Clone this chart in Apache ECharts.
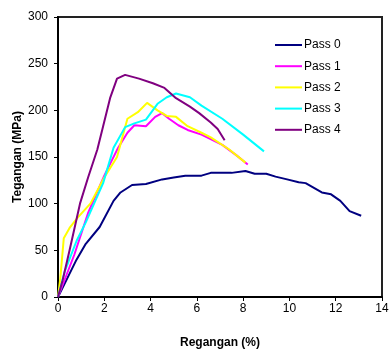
<!DOCTYPE html>
<html>
<head>
<meta charset="utf-8">
<script src="https://cdn.jsdelivr.net/npm/echarts@6/dist/echarts.min.js"></script>
<style>
  html, body { margin: 0; padding: 0; background: #fff; }
  #chart { width: 389px; height: 349px; }
</style>
</head>
<body>
<div id="chart"></div>
<script>
// strain (%) / stress (MPa) pairs
const pass0 = [[0,0],[0.4,20],[0.8,40],[1.2,57],[1.8,75],[2.4,103],[2.7,112],[3.2,120],[3.8,121],[4.5,126],[5,128],[5.5,130],[6.2,130],[6.6,133],[7.5,133],[8.1,135],[8.5,132],[9,132],[9.4,129],[9.9,126],[10.4,123],[10.7,122],[11.4,112],[11.8,110],[12.2,103],[12.6,92],[13.1,87]];
const pass1 = [[0,0],[0.7,45],[1.3,90],[2,130],[2.6,160],[3,176],[3.3,184],[3.8,183],[4.2,193],[4.5,197],[4.8,191],[5.2,184],[5.6,179],[6.2,174],[7.1,163],[7.7,152],[8.2,142]];
const pass2 = [[0,0],[0.1,20],[0.25,63],[0.5,74],[0.85,85],[1.4,100],[2,128],[2.55,150],[3,191],[3.45,198],[3.85,208],[4.3,200],[4.7,194],[5.1,193],[5.6,183],[6.2,176],[6.6,171],[7.4,158],[8.1,144]];
const pass3 = [[0,0],[0.3,28],[0.8,60],[1.2,80],[1.95,122],[2.4,160],[2.9,182],[3.3,186],[3.8,190],[4.3,207],[4.7,214],[5.1,218],[5.7,214],[6.2,205],[7.1,191],[8,174],[8.9,156]];
const pass4 = [[0,0],[0.2,18],[0.5,50],[0.95,100],[1.3,128],[1.7,158],[1.95,183],[2.25,213],[2.55,234],[2.9,238],[3.5,234],[4.1,229],[4.6,224],[5.1,213],[5.7,204],[6.1,197],[6.6,187],[6.9,180],[7.2,168]];

const names = ["Pass 0", "Pass 1", "Pass 2", "Pass 3", "Pass 4"];
const colors = ["#000080", "#ff00ff", "#ffff00", "#00ffff", "#800080"];
const allData = [pass0, pass1, pass2, pass3, pass4];

const font = "Arial, 'Liberation Sans', sans-serif";

const chart = echarts.init(document.getElementById("chart"));
chart.setOption({
    animation: false,
    grid: {
        left: 58, top: 17, width: 324, height: 280,
        outerBoundsMode: "none",
        show: true, borderColor: "#222", borderWidth: 2, backgroundColor: "#fff",
    },
    legend: {
        orient: "vertical",
        left: 275, top: 38,
        padding: 0,
        icon: "rect",
        itemWidth: 27, itemHeight: 2, itemGap: 7.2,
        data: names,
        textStyle: { fontFamily: font, fontSize: 12, color: "#000", padding: [0, 0, 0, -3], lineHeight: 14 },
    },
    xAxis: {
        type: "value", min: 0, max: 14, interval: 2,
        name: "Regangan (%)", nameLocation: "middle", nameGap: 40, nameMoveOverlap: false,
        nameTextStyle: { fontFamily: font, fontSize: 12, fontWeight: "bold", color: "#000" },
        axisLine: { lineStyle: { color: "#000", width: 2 } },
        axisTick: { show: true, length: 4, lineStyle: { color: "#000" } },
        axisLabel: { fontFamily: font, fontSize: 12, color: "#000", margin: 6 },
        splitLine: { show: false },
    },
    yAxis: {
        type: "value", min: 0, max: 300, interval: 50,
        name: "Tegangan (MPa)", nameLocation: "middle", nameGap: 34, nameRotate: 90, nameMoveOverlap: false,
        nameTextStyle: { fontFamily: font, fontSize: 12, fontWeight: "bold", color: "#000" },
        axisLine: { show: true, lineStyle: { color: "#000", width: 2 } },
        axisTick: { show: true, length: 4, lineStyle: { color: "#000" } },
        axisLabel: { fontFamily: font, fontSize: 12, color: "#000", margin: 10 },
        splitLine: { show: false },
    },
    series: allData.map((d, i) => ({
        name: names[i],
        type: "line",
        data: d,
        symbol: "none",
        color: colors[i],
        lineStyle: { width: 2, color: colors[i] },
    })),
});
</script>
</body>
</html>
